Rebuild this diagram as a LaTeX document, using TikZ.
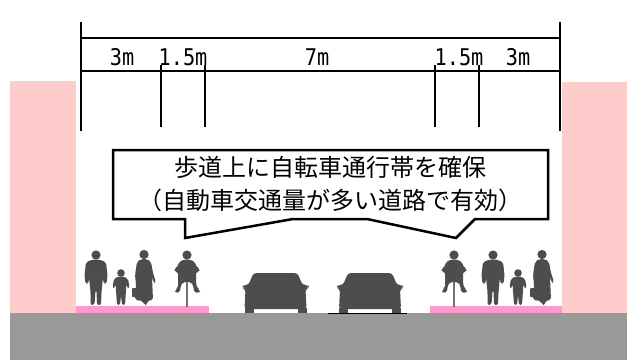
\documentclass[tikz,border=0pt]{standalone}
\usepackage{fontspec}
\usepackage{graphicx}
\newfontfamily\jpfont{Noto Sans CJK JP}
\newfontfamily\dimfont{DejaVu Sans Mono}
\definecolor{sidepink}{RGB}{255,204,204}
\definecolor{lanepink}{RGB}{255,153,204}
\definecolor{roadgray}{RGB}{153,153,153}
\definecolor{figgray}{RGB}{77,77,77}
\tikzset{
  dimline/.style={line width=2pt, black},
  dimlabel/.style={anchor=base, inner sep=0pt, font=\fontsize{23}{23}\dimfont},
  callout/.style={line width=2.5pt, black, fill=white, line join=miter},
  notetext/.style={align=center, inner sep=0pt, font=\jpfont\fontsize{24}{33}\selectfont},
  pics/walker/.style={code={
    \fill[figgray] (0,0) circle (4.6);
    \fill[figgray, rounded corners=2] (-3,4.5) -- (3,4.5) -- (10,7) -- (11.5,20) -- (10.5,29) -- (7.5,29)
      -- (7,22) -- (6.5,27) -- (5.5,37) -- (5,50) -- (1,50) -- (0.5,35) -- (-0.5,35) -- (-1.5,50)
      -- (-5.5,50) -- (-5.5,37) -- (-6.5,27) -- (-7,22) -- (-7.5,29) -- (-10.5,29) -- (-11.5,20) -- (-10,7) -- cycle;
  }},
  pics/kid/.style={code={
    \fill[figgray] (0,0) circle (3.8);
    \fill[figgray, rounded corners=1.5] (-2.5,3.5) -- (2.5,3.5) -- (7,6) -- (8.5,14) -- (7,16) -- (5.5,11)
      -- (5,17) -- (4,32) -- (1,32) -- (0,22) -- (-1,32) -- (-4,32) -- (-5,17) -- (-5.5,11) -- (-7,16)
      -- (-8.5,14) -- (-7,6) -- cycle;
  }},
  pics/lady/.style={code={
    \fill[figgray] (0,-0.5) circle (4.6);
    \fill[figgray, rounded corners=2] (-3,4) -- (3,4) -- (7,7) -- (9,18) -- (12,27) -- (10,28) -- (8,22)
      -- (9,45) -- (3,46) -- (3,50) -- (0,50) -- (-1,46) -- (-9,45) -- (-8,30) -- (-9,20) -- (-7,7) -- cycle;
    \fill[figgray, rounded corners=1] (-12,33) rectangle (-6,42);
  }},
  pics/rider/.style={code={
    \fill[figgray] (0,0) circle (4.6);
    \fill[figgray!80] (-1.3,22) rectangle (1.3,52);
    \fill[figgray, rounded corners=2] (-3,4.5) -- (3,4.5) -- (8,7) -- (10,13) -- (13,14) -- (12.5,17)
      -- (9,17) -- (9,27) -- (10,33) -- (13,35) -- (13,37.5) -- (7,37.5) -- (6.5,31) -- (4,27)
      -- (-4,27) -- (-6.5,31) -- (-7,37.5) -- (-12,37.5) -- (-12,35) -- (-9,33) -- (-9,27)
      -- (-9,17) -- (-12.5,17) -- (-13,14) -- (-10,13) -- (-8,7) -- cycle;
  }},
  pics/auto/.style={code={
    \fill[figgray, rounded corners=3] (-22,-40) -- (22,-40) -- (27,-28) -- (33,-28) -- (33,-25) -- (30,-24)
      -- (31,-4) -- (-31,-4) -- (-30,-24) -- (-33,-25) -- (-33,-28) -- (-27,-28) -- cycle;
    \fill[figgray] (-31,-5) rectangle (-22,0);
    \fill[figgray] (22,-5) rectangle (31,0);
  }}
}
\begin{document}
\begin{tikzpicture}[x=1pt,y=-1pt]
\useasboundingbox[fill=white] (0,0) rectangle (634,360);

% sidewalk backgrounds and road
\fill[sidepink] (10,81) rectangle (76,315);
\fill[sidepink] (562,82) rectangle (627,316);
\fill[roadgray] (10,313) rectangle (627,360);

% bicycle lanes on the sidewalks
\fill[lanepink] (76,306) rectangle (209,313);
\fill[lanepink] (430,306) rectangle (562,313);

% people on the left sidewalk
\pic at (96,255) {walker};
\pic at (121,273) {kid};
\pic at (144,255) {lady};
\pic at (187,255) {rider};

% cars on the carriageway
\pic at (275.5,313) {auto};
\pic at (370,313) {auto};
\draw[line width=1pt] (328,313) -- (407,313);

% people on the right sidewalk
\pic at (454,255) {rider};
\pic at (493,255) {walker};
\pic at (518,273) {kid};
\pic at (542,255) {lady};

% dimension lines
\coordinate (tl) at (81,22);
\coordinate (bl) at (81,131);
\coordinate (tr) at (560,22);
\coordinate (br) at (560,131);
\draw[dimline] (tl) -- (bl);
\draw[dimline] (tr) -- (br);
\draw[dimline] (81,38) -- (560,38);
\draw[dimline] (81,71) -- (560,71);
\foreach \xx in {161,205,435,479}
  \draw[dimline] (\xx,65) -- (\xx,127);

\node[dimlabel] (w1) at (122,65) {\scalebox{0.88}[1]{3m}};
\node[dimlabel] (w2) at (183,65) {\scalebox{0.88}[1]{1.5m}};
\node[dimlabel] (w3) at (317,65) {\scalebox{0.88}[1]{7m}};
\node[dimlabel] (w4) at (459,65) {\scalebox{0.88}[1]{1.5m}};
\node[dimlabel] (w5) at (518,65) {\scalebox{0.88}[1]{3m}};

% speech balloon pointing at both bicycle lanes
\draw[callout] (113,150) -- (548,150) -- (548,219) -- (475,219) -- (456,238) -- (367,219)
  -- (293,219) -- (185,238) -- (185,219) -- (113,219) -- cycle;
\node[notetext] (note) at (330.5,184.5) {歩道上に自転車通行帯を確保\\（自動車交通量が多い道路で有効）};
\end{tikzpicture}
\end{document}
